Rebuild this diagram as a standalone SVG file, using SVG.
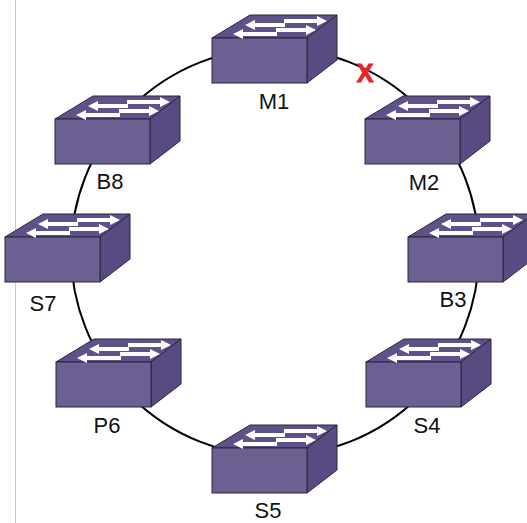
<svg xmlns="http://www.w3.org/2000/svg" xmlns:xlink="http://www.w3.org/1999/xlink" width="527" height="523" viewBox="0 0 527 523">
<style>
.front{fill:#6c5f92;stroke:#2a2440;stroke-width:1}
.top{fill:#5f5189;stroke:#2a2440;stroke-width:1;stroke-linejoin:round}
.side{fill:#594b82;stroke:#2a2440;stroke-width:1;stroke-linejoin:round}
.arr{fill:#ffffff}
.lbl{font-family:"Liberation Sans",Arial,sans-serif;font-size:22px;fill:#111111;text-anchor:middle}
.ring{fill:none;stroke:#000000;stroke-width:2}
</style>
<defs>
<g id="sw">
<polygon class="top" points="0,0 95,0 125,-23 38,-23"/>
<polygon class="side" points="95,0 125,-23 125,22 95,45"/>
<rect class="front" x="0" y="0" width="95" height="45"/>
<polygon class="arr" points="33,-13 43,-18 43,-15 73,-15 73,-11 43,-11 43,-8"/>
<polygon class="arr" points="115,-17 105,-22 105,-19 72,-19 72,-15 105,-15 105,-12"/>
<polygon class="arr" points="21,-4 31,-9 31,-6 65,-6 65,-2 31,-2 31,1"/>
<polygon class="arr" points="104,-8 94,-13 94,-10 64,-10 64,-6 94,-6 94,-3"/>
</g>
</defs>
<line x1="15.5" y1="0" x2="15.5" y2="523" stroke="#c8c8c8" stroke-width="1"/>
<g id="connectors">
<circle class="ring" cx="275" cy="252" r="204"/>
</g>
<g id="M1"><use xlink:href="#sw" transform="translate(212,38)"/><text class="lbl" x="274" y="109">M1</text></g>
<g id="M2"><use xlink:href="#sw" transform="translate(365,119)"/><text class="lbl" x="424" y="190">M2</text></g>
<g id="B3"><use xlink:href="#sw" transform="translate(408,237)"/><text class="lbl" x="453" y="307">B3</text></g>
<g id="S4"><use xlink:href="#sw" transform="translate(366,362)"/><text class="lbl" x="427" y="433">S4</text></g>
<g id="S5"><use xlink:href="#sw" transform="translate(212,448)"/><text class="lbl" x="268" y="518">S5</text></g>
<g id="P6"><use xlink:href="#sw" transform="translate(56,362)"/><text class="lbl" x="107" y="433">P6</text></g>
<g id="S7"><use xlink:href="#sw" transform="translate(5,237)"/><text class="lbl" x="43" y="311">S7</text></g>
<g id="B8"><use xlink:href="#sw" transform="translate(55,119)"/><text class="lbl" x="110" y="189">B8</text></g>
<g id="fault"><text x="365" y="82" font-family="Liberation Sans,Arial,sans-serif" font-size="25" font-weight="bold" fill="#e8232a" stroke="#e8232a" stroke-width="1" text-anchor="middle">X</text></g>
</svg>
